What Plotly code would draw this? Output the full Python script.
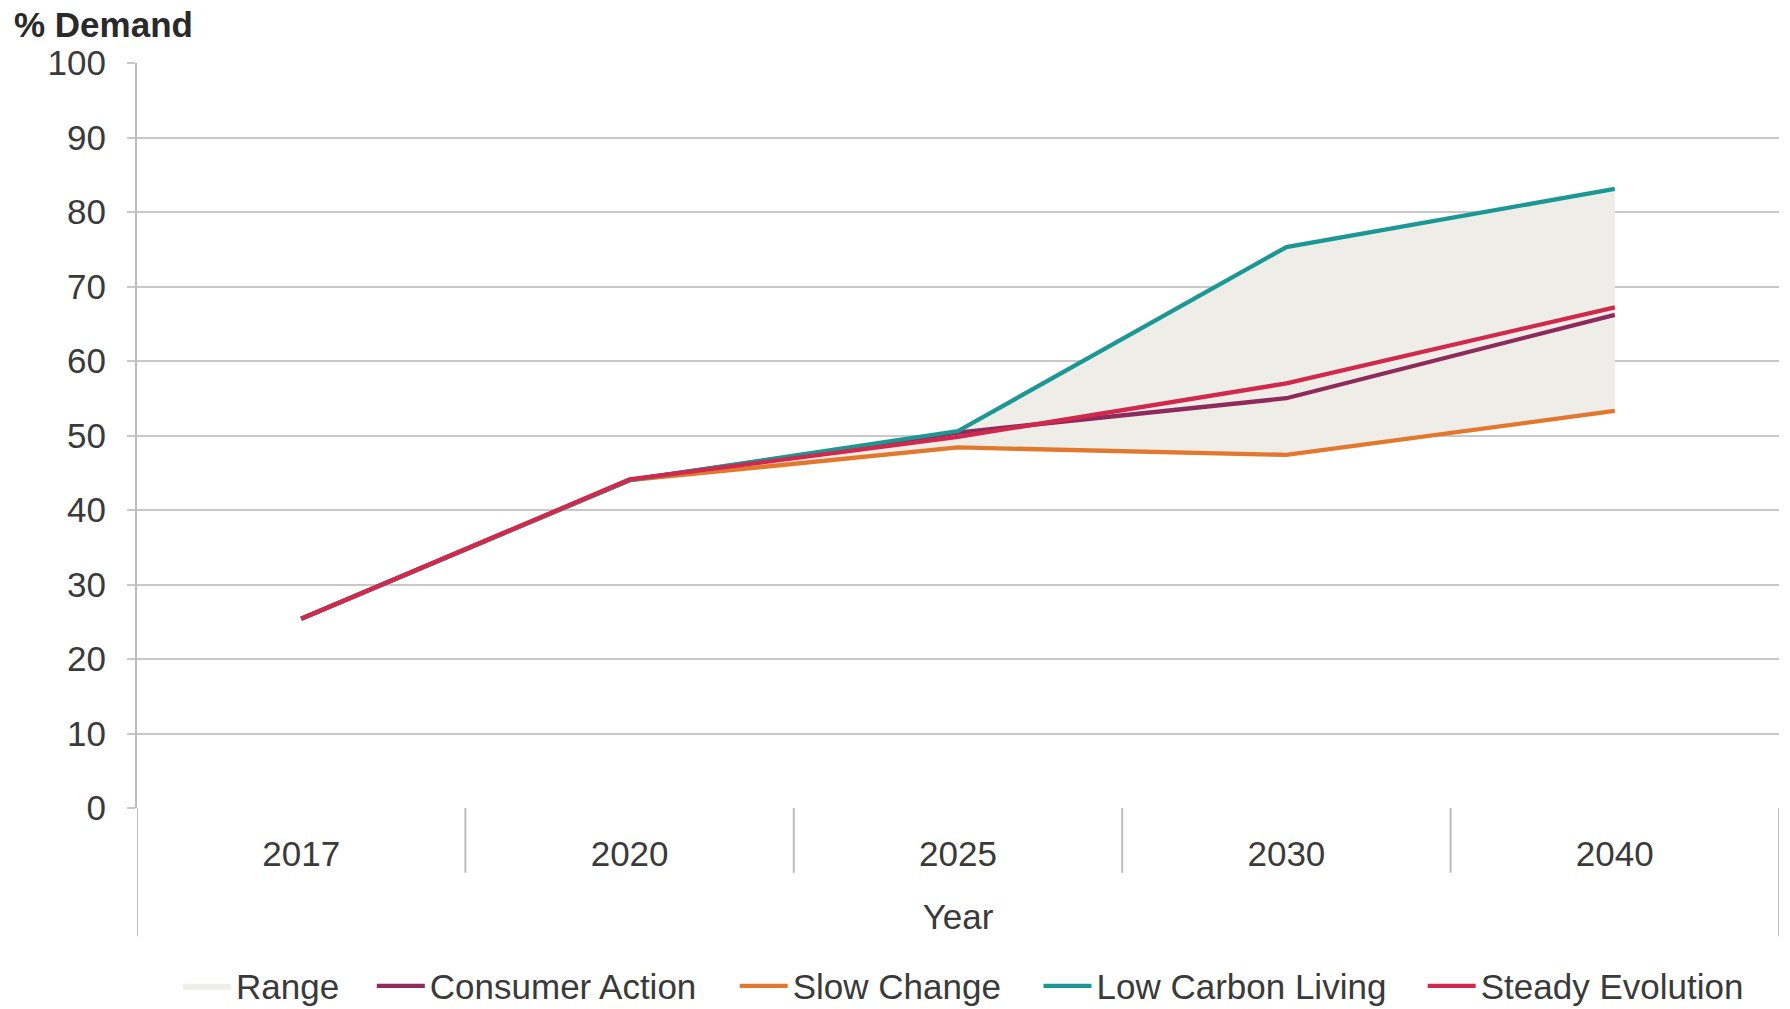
import numpy as np
import plotly.graph_objects as go

# Share of demand by scenario and year
years = ["2017", "2020", "2025", "2030", "2040"]
consumer_action = [25.4, 44.0, 50.4, 55.0, 66.2]
slow_change = [25.4, 44.0, 48.4, 47.4, 53.3]
low_carbon_living = [25.4, 44.0, 50.6, 75.3, 83.1]
steady_evolution = [25.4, 44.1, 49.8, 57.0, 67.2]

y_ticks = [0, 10, 20, 30, 40, 50, 60, 70, 80, 90, 100]

series = [
    ("Consumer Action", consumer_action, "#8E2A5C"),
    ("Slow Change", slow_change, "#E2782E"),
    ("Low Carbon Living", low_carbon_living, "#1C9894"),
    ("Steady Evolution", steady_evolution, "#D1284D"),
]

all_vals = np.array([s[1] for s in series])
range_low = all_vals.min(axis=0)
range_high = all_vals.max(axis=0)

FONT = "Liberation Sans, Arial, sans-serif"
TEXT = "#3a3a3a"
GRID = "#C8C8C8"
FS = 35

# Horizontal start of each legend entry (paper fraction)
legend_x = [0.025, 0.143, 0.364, 0.549, 0.783]
legend_ids = ["legend", "legend2", "legend3", "legend4", "legend5"]

fig = go.Figure()

# Scenario range band
fig.add_trace(go.Scatter(
    x=years, y=range_low, mode="lines", line=dict(width=0),
    showlegend=False, hoverinfo="skip",
))
fig.add_trace(go.Scatter(
    x=years, y=range_high, mode="lines", line=dict(width=0),
    fill="tonexty", fillcolor="#EEEDE7", name="Range", legend=legend_ids[0],
))

for (name, vals, color), lid in zip(series, legend_ids[1:]):
    fig.add_trace(go.Scatter(
        x=years, y=vals, mode="lines", name=name, legend=lid,
        line=dict(color=color, width=4.3),
    ))

# Category divider lines below the axis
shapes = []
n = len(years)
for i in range(n + 1):
    edge = i in (0, n)
    shapes.append(dict(
        type="line", xref="x", yref="paper",
        x0=i - 0.5, x1=i - 0.5, y0=0, y1=-0.172 if edge else -0.087,
        line=dict(color="#BDBDBD", width=2),
    ))

legend_style = dict(
    orientation="h", xanchor="left", y=-0.239, yanchor="middle",
    font=dict(size=FS, color=TEXT), itemwidth=48, bgcolor="rgba(0,0,0,0)",
)
legends = {lid: dict(legend_style, x=lx) for lid, lx in zip(legend_ids, legend_x)}

fig.update_layout(
    width=1790, height=1009,
    margin=dict(l=137, r=11, t=63, b=201, autoexpand=False),
    paper_bgcolor="white", plot_bgcolor="white",
    font=dict(family=FONT, size=FS, color=TEXT),
    title=dict(
        text="<b>% Demand</b>", xref="container", yref="container",
        x=14 / 1790, xanchor="left", y=1 - 25 / 1009, yanchor="middle",
        font=dict(family=FONT, size=FS, color="#2a2a2a"),
    ),
    xaxis=dict(
        type="category", categoryorder="array", categoryarray=years,
        range=[-0.5, n - 0.5], showgrid=False, zeroline=False,
        showline=False, ticks="", ticklabelstandoff=22, automargin=False,
        title=dict(text="Year", standoff=32, font=dict(size=FS, color=TEXT)),
    ),
    yaxis=dict(
        range=[0, 100], tickvals=y_ticks, showgrid=True, gridcolor=GRID,
        gridwidth=2, zeroline=False, showline=True, linecolor="#BDBDBD",
        linewidth=2, ticks="outside", ticklen=8, tickcolor=GRID, tickwidth=2,
        ticklabelstandoff=14, automargin=False,
    ),
    shapes=shapes,
    **legends,
)

fig.write_html("out.html")
